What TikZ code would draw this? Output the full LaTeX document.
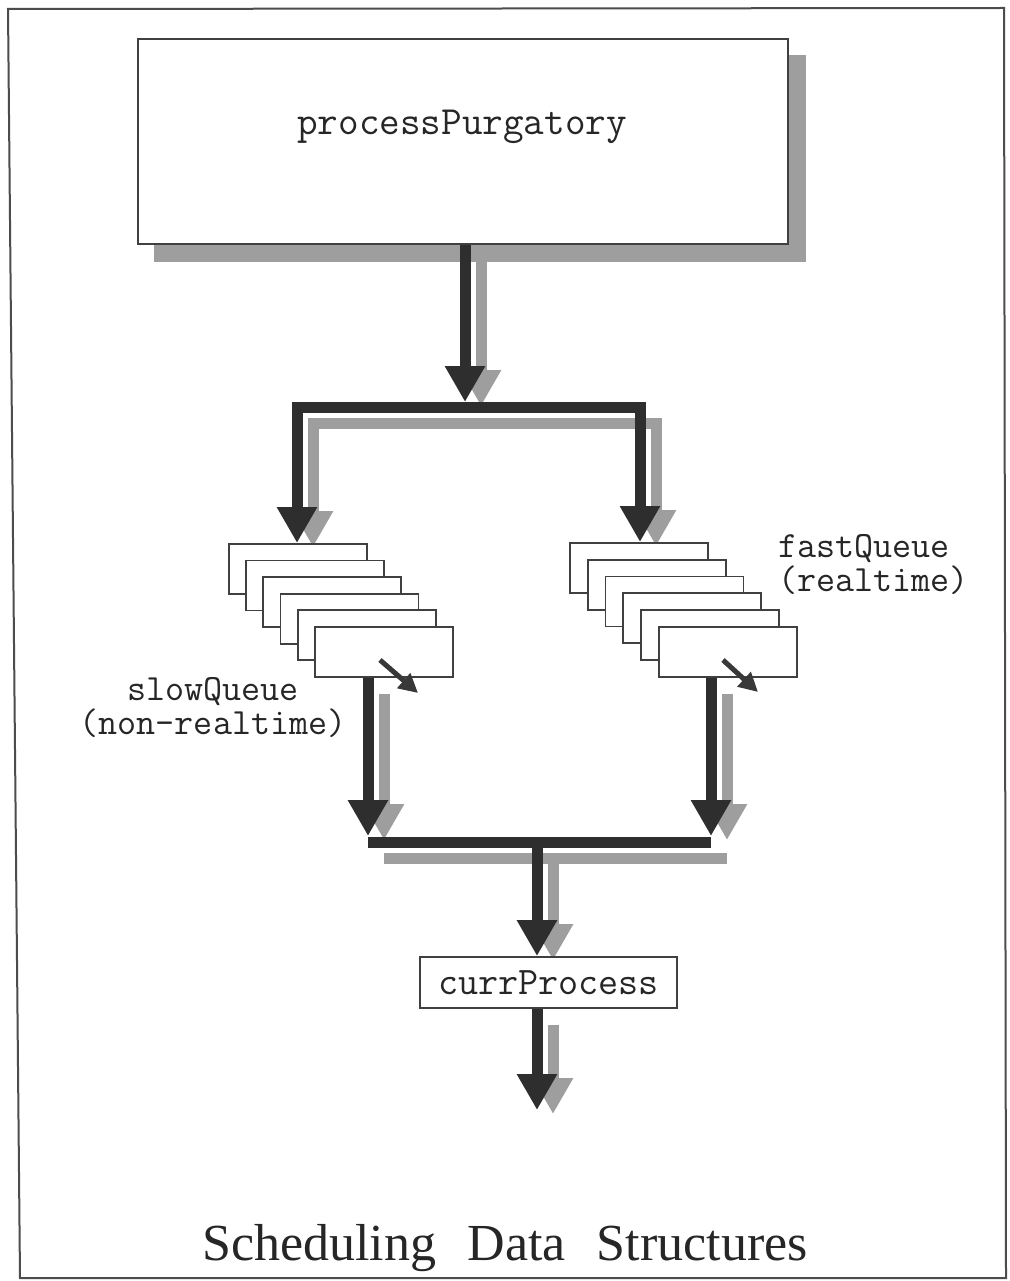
\documentclass[tikz,border=0pt]{standalone}
\usepackage{fontspec}
\usepackage{graphicx}
\newfontfamily\titlefont{Liberation Serif}
\usetikzlibrary{arrows.meta,backgrounds}
\colorlet{darkc}{black!82}
\colorlet{shadc}{black!38}
\colorlet{edgec}{black!75}
\begin{document}
\begin{tikzpicture}[x=1pt,y=-1pt,
  frame/.style={draw=black!70,line width=2pt},
  ppbox/.style={draw=edgec,fill=white,line width=1.8pt,anchor=north west,minimum width=650pt,minimum height=205pt,inner sep=0pt},
  qbox/.style={draw=edgec,fill=white,line width=1.8pt,anchor=north west,minimum width=138pt,minimum height=50pt,inner sep=0pt},
  cpbox/.style={draw=edgec,fill=white,line width=1.8pt,minimum width=257pt,minimum height=51pt,inner sep=0pt,font=\ttfamily\fontsize{39}{40}\selectfont,text=black!85},
  lbl/.style={font=\ttfamily\fontsize{37}{34}\selectfont,text=black!85,inner sep=0pt},
  conn/.style={line width=11pt},
  darkconn/.style={conn,draw=darkc},
  shadconn/.style={conn,draw=shadc},
  bigtip/.tip={Triangle[width=38pt,length=36pt]},
  smallarr/.style={draw=black!78,line width=5pt,-{Triangle[width=19pt,length=19pt]}}
]
\useasboundingbox (0,0) rectangle (1009,1281);

% nodes
\node[ppbox] (pp) at (137,38) {};
\node[font=\ttfamily\fontsize{40}{42}\selectfont,text=black!85,inner sep=0pt] (pptext) at (462,127) {processPurgatory};
\foreach \i in {1,...,6} {
  \node[qbox] (s\i) at ({228+17.2*(\i-1)},{543+16.6*(\i-1)}) {};
}
\foreach \i in {1,...,6} {
  \node[qbox] (f\i) at ({569+17.8*(\i-1)},{542+16.8*(\i-1)}) {};
}
\node[cpbox] (cp) at (548.5,982.5) {currProcess};
\node[lbl,align=center] (slowlbl) at (213,708) {slowQueue\\(non-realtime)};
\node[lbl,align=left,anchor=west] (fastlbl) at (778,565) {fastQueue\\(realtime)};
\node[font=\titlefont\fontsize{52}{56}\selectfont,text=black!85,inner sep=0pt] (title) at (505,1248) {Scheduling\hspace{0.6em}Data\hspace{0.6em}Structures};

% junction coordinates
\coordinate (j1) at (465,407);
\coordinate (bl) at (297,407);
\coordinate (br) at (640,407);
\coordinate (ppo) at (pp.south -| j1);
\coordinate (sin) at (s1.north -| bl);
\coordinate (fin) at (f1.north -| br);
\coordinate (lbL) at (368,842);
\coordinate (lbR) at (711,842);
\coordinate (j2) at (537,842);
\coordinate (sout) at (s6.south -| lbL);
\coordinate (fout) at (f6.south -| lbR);
\coordinate (cpin) at (cp.north -| j2);
\coordinate (cpout) at (cp.south -| j2);
\coordinate (endpt) at (537,1110);

% #1 style, #2 offset, #3 extra shortening of the tips
\newcommand\myconns[3]{%
  \draw[#1,-{bigtip},shorten >={5pt+#3}] ([shift={#2}]ppo) -- ([shift={#2}]j1);
  \draw[#1,{bigtip}-{bigtip},shorten <=#3,shorten >=#3] ([shift={#2}]sin) -- ([shift={#2}]bl) -- ([shift={#2}]br) -- ([shift={#2}]fin);
  \draw[#1,-{bigtip},shorten >={6pt+#3}] ([shift={#2}]sout) -- ([shift={#2}]lbL);
  \draw[#1,-{bigtip},shorten >={6pt+#3}] ([shift={#2}]fout) -- ([shift={#2}]lbR);
  \draw[#1] ([shift={#2}]lbL) -- ([shift={#2}]lbR);
  \draw[#1,-{bigtip},shorten >=#3] ([shift={#2}]j2) -- ([shift={#2}]cpin);
  \draw[#1,-{bigtip},shorten >=#3] ([shift={#2}]cpout) -- ([shift={#2}]endpt);
}

\begin{scope}[on background layer]
  \fill[white] (0,0) rectangle (1009,1281);
  \draw[frame] (8,9) -- (1004,8) -- (1006,1278) -- (20,1278) -- cycle;
  \fill[shadc] ([shift={(17,17)}]pp.north west) rectangle ([shift={(17,17)}]pp.south east);
  \myconns{shadconn}{(16,16)}{12pt}
\end{scope}

\myconns{darkconn}{(0,0)}{0pt}

\draw[smallarr] ([shift={(66,34)}]s6.north west) -- ([shift={(104,67)}]s6.north west);
\draw[smallarr] ([shift={(65,34)}]f6.north west) -- ([shift={(100,66)}]f6.north west);
\end{tikzpicture}
\end{document}
